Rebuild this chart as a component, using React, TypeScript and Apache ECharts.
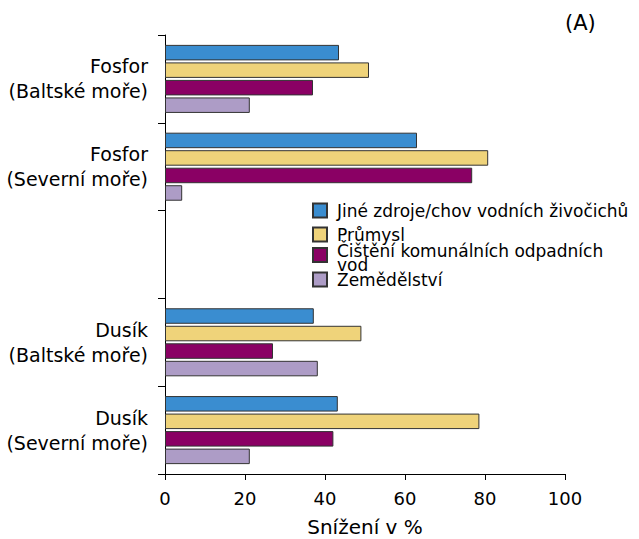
import React, { useEffect, useRef } from "react";
import * as echarts from "echarts";

// Categories listed top to bottom; the empty slot separates phosphorus from nitrogen.
const categories = [
  "Fosfor\n(Baltské moře)",
  "Fosfor\n(Severní moře)",
  "",
  "Dusík\n(Baltské moře)",
  "Dusík\n(Severní moře)",
];

const seriesNames = [
  "Jiné zdroje/chov vodních živočichů",
  "Průmysl",
  "Čištění komunálních odpadních\nvod",
  "Zemědělství",
];

const jineZdroje = [43.5, 63, null, 37.2, 43.2];
const prumysl = [51, 80.8, null, 49.1, 78.6];
const cisteni = [37, 76.8, null, 27, 42.1];
const zemedelstvi = [21.2, 4.3, null, 38.2, 21.2];

const xTicks = [0, 20, 40, 60, 80, 100];

const colors = ["#3a8dd0", "#efd37a", "#8a0064", "#ad9cc6"];

const FONT = "DejaVu Sans";

// Top edge of each legend entry's icon; the two-line entry hangs its second line below.
const legendIconTops = [203, 227, 248, 272];

export default function App() {
  const ref = useRef<HTMLDivElement>(null);

  useEffect(() => {
    if (!ref.current) return;
    const chart = echarts.init(ref.current, null, { renderer: "svg" });
    const values = [jineZdroje, prumysl, cisteni, zemedelstvi];

    const ICON = 14;
    const SPACER = 6;
    const legends = seriesNames.map((name, i) => {
      const multiLine = name.includes("\n");
      const lineHeight = multiLine ? 14 : 16;
      // A short spacer line above a wrapped entry lifts its first line near the icon.
      const boxH = multiLine ? SPACER + name.split("\n").length * lineHeight : lineHeight;
      const rectTop = Math.min(0, ICON / 2 - boxH / 2);
      return {
        orient: "vertical",
        left: 312,
        top: legendIconTops[i] + rectTop,
        padding: 0,
        icon: "rect",
        itemWidth: ICON,
        itemHeight: ICON,
        selectedMode: false,
        data: [name],
        formatter: multiLine
          ? (n: string) => "{s|}\n" + n.split("\n").map((l) => `{t|${l}}`).join("\n")
          : undefined,
        textStyle: {
          fontFamily: FONT,
          fontSize: 17,
          lineHeight,
          color: "#000",
          padding: [0, 0, 0, 5],
          rich: {
            s: { lineHeight: SPACER, height: SPACER, fontSize: 1 },
            t: { fontFamily: FONT, fontSize: 17, lineHeight, color: "#000" },
          },
        },
      };
    });

    chart.setOption({
      animation: false,
      title: {
        text: "(A)",
        left: 565,
        top: 12,
        padding: 0,
        textStyle: { fontFamily: FONT, fontSize: 21, fontWeight: "normal", color: "#000" },
      },
      legend: legends,
      grid: { left: 165, right: 74, top: 35, bottom: 65, outerBoundsMode: "none" },
      xAxis: {
        type: "value",
        min: xTicks[0],
        max: xTicks[xTicks.length - 1],
        interval: 20,
        name: "Snížení v %",
        nameLocation: "middle",
        nameGap: 43,
        nameTextStyle: { fontFamily: FONT, fontSize: 20, color: "#000" },
        axisLine: { show: true, lineStyle: { color: "#000", width: 1 } },
        axisTick: { show: true, length: 6, lineStyle: { color: "#000" } },
        axisLabel: { fontFamily: FONT, fontSize: 18, color: "#000", margin: 15 },
        splitLine: { show: false },
      },
      yAxis: {
        type: "category",
        inverse: true,
        data: categories,
        axisLine: { show: true, lineStyle: { color: "#000", width: 1 } },
        axisTick: { show: true, length: 7, lineStyle: { color: "#000" } },
        axisLabel: {
          fontFamily: FONT,
          fontSize: 19,
          lineHeight: 25,
          color: "#000",
          margin: 17,
          align: "right",
        },
      },
      series: seriesNames.map((name, i) => ({
        name,
        type: "bar",
        data: values[i],
        barWidth: 15.5,
        barGap: "13%",
        itemStyle: { color: colors[i], borderColor: "#333", borderWidth: 1 },
      })),
    });

    return () => chart.dispose();
  }, []);

  return (
    <div
      ref={ref}
      style={{ position: "absolute", left: 0, top: 0, width: 639, height: 539 }}
    />
  );
}
